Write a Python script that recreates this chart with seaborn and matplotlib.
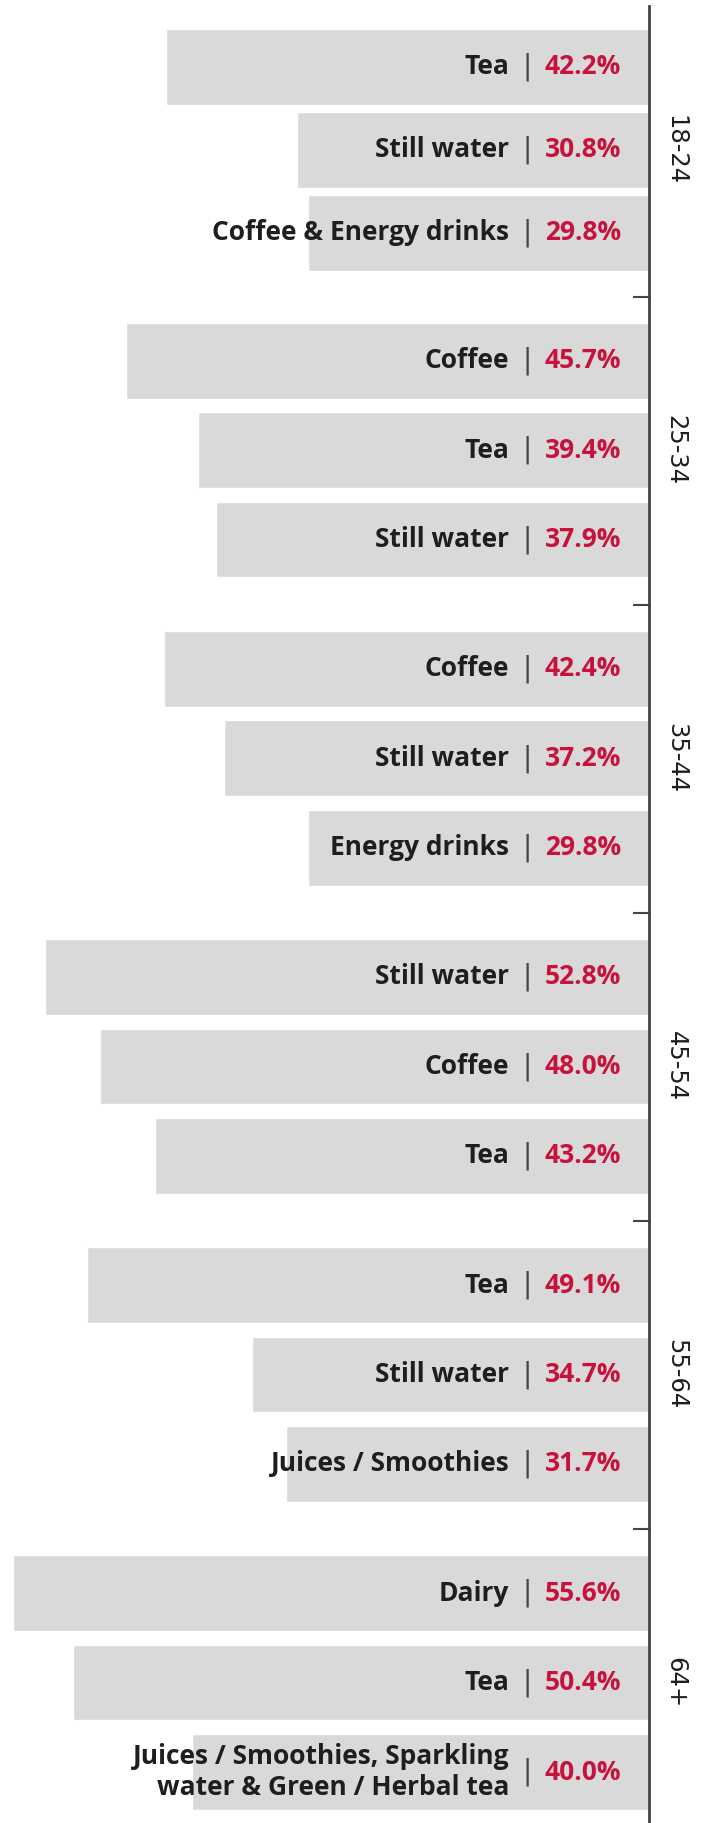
import matplotlib
matplotlib.use("Agg")
import matplotlib.pyplot as plt
import seaborn as sns
import pandas as pd

# ---------------- data ----------------
groups = ["18-24", "25-34", "35-44", "45-54", "55-64", "64+"]
drinks_18_24 = ["Tea", "Still water", "Coffee & Energy drinks"]
values_18_24 = [42.2, 30.8, 29.8]
drinks_25_34 = ["Coffee", "Tea", "Still water"]
values_25_34 = [45.7, 39.4, 37.9]
drinks_35_44 = ["Coffee", "Still water", "Energy drinks"]
values_35_44 = [42.4, 37.2, 29.8]
drinks_45_54 = ["Still water", "Coffee", "Tea"]
values_45_54 = [52.8, 48.0, 43.2]
drinks_55_64 = ["Tea", "Still water", "Juices / Smoothies"]
values_55_64 = [49.1, 34.7, 31.7]
drinks_64_plus = ["Dairy", "Tea", "Juices / Smoothies, Sparkling\nwater & Green / Herbal tea"]
values_64_plus = [55.6, 50.4, 40.0]

group_drinks = [drinks_18_24, drinks_25_34, drinks_35_44, drinks_45_54, drinks_55_64, drinks_64_plus]
group_values = [values_18_24, values_25_34, values_35_44, values_45_54, values_55_64, values_64_plus]

# ---------------- style ----------------
sns.set_theme(style="white")
plt.rcParams["font.family"] = ["Open Sans", "DejaVu Sans"]

BAR = "#d9d9d9"
AXIS = "#444444"
TXT = "#1e1e1e"
RED = "#c8123c"
FS = 19

W, H = 704, 1823
fig = plt.figure(figsize=(W / 100, H / 100), dpi=100)
fig.patch.set_facecolor("white")

axis_x = 648.7            # pixel position of the vertical axis line
px_per_pct = 11.43
xmax = axis_x / px_per_pct

# facet boundaries in pixels (top of figure = 0)
bounds = [6, 296.7, 604.8, 912.9, 1221.0, 1529.1, H]
pitches = [83.0, 89.4, 89.4, 89.4, 89.4, 89.4]
offsets = [60.9, 64.1, 64.1, 64.1, 64.1, 64.1]
bar_px = 75.7

for i, (grp, drinks, vals) in enumerate(zip(groups, group_drinks, group_values)):
    top, bot = bounds[i], bounds[i + 1]
    ax = fig.add_axes([0, 1 - bot / H, axis_x / W, (bot - top) / H])
    df = pd.DataFrame({"drink": drinks, "value": vals})
    p = pitches[i]
    sns.barplot(data=df, x="value", y="drink", orient="h", color=BAR,
                width=bar_px / p, ax=ax, saturation=1)
    ytop = -offsets[i] / p
    ybot = ytop + (bot - top) / p
    ax.set_ylim(ybot, ytop)
    ax.set_xlim(xmax, 0)
    ax.set_facecolor("none")
    for s in ["left", "top", "bottom"]:
        ax.spines[s].set_visible(False)
    ax.spines["right"].set_visible(True)
    ax.spines["right"].set_color(AXIS)
    ax.spines["right"].set_linewidth(2.0)
    ax.set_xticks([])
    ax.set_xlabel("")
    ax.set_ylabel("")
    ax.yaxis.tick_right()
    if i < len(groups) - 1:
        ax.set_yticks([ybot])
    else:
        ax.set_yticks([])
    ax.tick_params(axis="y", direction="in", length=11.5, width=1.5, color=AXIS,
                   labelright=False, labelleft=False, right=True, left=False)

    for j, (d, v) in enumerate(zip(drinks, vals)):
        ax.annotate(d, xy=(0, j), xytext=(-139.5, 0), textcoords="offset pixels",
                    ha="right", va="center", fontsize=FS, fontweight="bold",
                    color=TXT, annotation_clip=False, linespacing=1.2)
        ax.annotate("|", xy=(0, j), xytext=(-122, 0), textcoords="offset pixels",
                    ha="center", va="center", fontsize=20, fontweight="normal",
                    color="#444444", family=["DejaVu Sans"], annotation_clip=False)
        ax.annotate(f"{v:.1f}%", xy=(0, j), xytext=(-27.5, 0), textcoords="offset pixels",
                    ha="right", va="center", fontsize=FS, fontweight="bold",
                    color=RED, annotation_clip=False)

    ax.annotate(grp, xy=(0, 1), xytext=(27, 0), textcoords="offset pixels",
                ha="center", va="center", rotation=-90, fontsize=17.5,
                color=TXT, family=["DejaVu Sans"], annotation_clip=False)

fig.savefig("out.png", dpi=100, facecolor="white")
